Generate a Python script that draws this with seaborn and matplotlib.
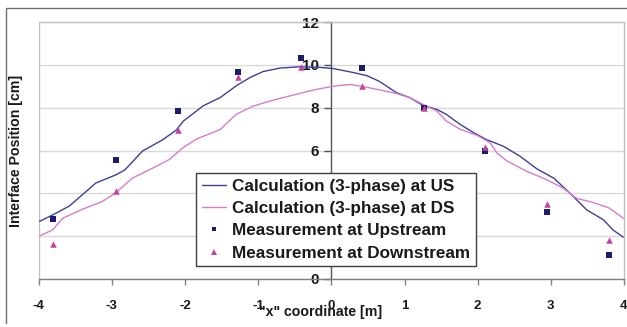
import matplotlib
matplotlib.use("Agg")
import matplotlib.pyplot as plt
from matplotlib.lines import Line2D
import numpy as np
import pandas as pd
import seaborn as sns

# ---------------- data ----------------
calc_us_x = [-3.99, -3.81, -3.58, -3.35, -3.22, -2.94, -2.82, -2.58, -2.31, -2.12,
             -2.02, -1.75, -1.52, -1.30, -1.11, -0.93, -0.70, -0.43, -0.16, 0.02,
             0.30, 0.49, 0.66, 0.89, 1.07, 1.25, 1.44, 1.57, 1.76, 1.94,
             2.12, 2.35, 2.58, 2.81, 3.04, 3.26, 3.49, 3.72, 3.85, 3.99]
calc_us_y = [2.69, 2.99, 3.41, 4.09, 4.48, 4.87, 5.10, 5.98, 6.49, 6.95,
             7.38, 8.09, 8.47, 9.02, 9.41, 9.69, 9.85, 9.91, 9.88, 9.83,
             9.64, 9.49, 9.22, 8.70, 8.47, 8.11, 7.92, 7.69, 7.22, 6.84,
             6.51, 6.20, 5.73, 5.14, 4.71, 4.01, 3.23, 2.76, 2.29, 1.95]

calc_ds_x = [-3.99, -3.81, -3.67, -3.40, -3.13, -2.94, -2.72, -2.44, -2.22, -2.02,
             -1.84, -1.52, -1.30, -1.07, -0.84, -0.52, -0.24, 0.02, 0.25, 0.43,
             0.66, 0.89, 1.07, 1.25, 1.44, 1.57, 1.76, 1.99, 2.17, 2.26,
             2.40, 2.67, 2.94, 3.17, 3.35, 3.58, 3.80, 3.99]
calc_ds_y = [2.01, 2.29, 2.84, 3.26, 3.62, 4.04, 4.71, 5.18, 5.57, 6.15,
             6.54, 6.98, 7.69, 8.07, 8.31, 8.59, 8.83, 9.00, 9.08, 8.99,
             8.83, 8.66, 8.47, 8.16, 7.85, 7.38, 6.99, 6.71, 6.36, 5.89,
             5.51, 5.03, 4.64, 4.24, 3.77, 3.57, 3.31, 2.84]

meas_x = [-3.8, -2.95, -2.1, -1.27, -0.42, 0.42, 1.27, 2.1, 2.95, 3.8]
meas_us_y = [2.80, 5.57, 7.83, 9.67, 10.32, 9.87, 8.00, 6.00, 3.11, 1.12]
meas_ds_y = [1.64, 4.10, 6.97, 9.45, 9.90, 9.00, 8.00, 6.16, 3.50, 1.80]

series_labels = ["Calculation (3-phase) at US", "Calculation (3-phase) at DS",
                 "Measurement at Upstream", "Measurement at Downstream"]
x_ticks = [-4, -3, -2, -1, 0, 1, 2, 3, 4]
y_ticks = [0, 2, 4, 6, 8, 10, 12]
x_label = '"x" coordinate [m]'
y_label = "Interface Position [cm]"

# ---------------- style ----------------
sns.set_theme(style="white")
plt.rcParams["font.family"] = ["Liberation Sans", "DejaVu Sans"]
plt.rcParams["font.weight"] = "bold"

c_us_line = "#3f3f98"
c_ds_line = "#d57ccf"
c_us_mark = "#1c1c6c"
c_ds_mark = "#c2449e"

W, H = 627, 327
fig = plt.figure(figsize=(W / 100, H / 100), dpi=100)
L, R, T, B = 38.7, 624.0, 22.0, 279.0
ax = fig.add_axes([L / W, 1 - B / H, (R - L) / W, (B - T) / H])

df_us = pd.DataFrame({"x": calc_us_x, "y": calc_us_y})
df_ds = pd.DataFrame({"x": calc_ds_x, "y": calc_ds_y})
df_mu = pd.DataFrame({"x": meas_x, "y": meas_us_y})
df_md = pd.DataFrame({"x": meas_x, "y": meas_ds_y})

sns.lineplot(data=df_us, x="x", y="y", sort=False, estimator=None,
             color=c_us_line, lw=1.0, ax=ax, zorder=3)
sns.lineplot(data=df_ds, x="x", y="y", sort=False, estimator=None,
             color=c_ds_line, lw=1.0, ax=ax, zorder=3)
sns.scatterplot(data=df_mu, x="x", y="y", marker="s", s=16, color=c_us_mark,
                linewidth=0, ax=ax, zorder=4)
sns.scatterplot(data=df_md, x="x", y="y", marker="^", s=22, color=c_ds_mark,
                linewidth=0, ax=ax, zorder=4)

ax.set_xlim(-4, 4)
ax.set_ylim(0, 12)
ax.set_xticks(x_ticks)
ax.set_yticks(y_ticks)
ax.set_xticklabels([str(v) for v in x_ticks], fontsize=9.5, fontweight="bold")
ax.set_yticklabels([str(v) for v in y_ticks], fontsize=9.5, fontweight="bold")

# grid
ax.yaxis.grid(True, color="#d9d9d9", lw=1.0, zorder=0)
ax.xaxis.grid(False)
ax.set_axisbelow(True)

# spines
ax.spines["left"].set_position(("data", 0))
ax.spines["left"].set_color("#555555")
ax.spines["left"].set_linewidth(1.0)
ax.spines["bottom"].set_color("#808080")
ax.spines["bottom"].set_linewidth(1.0)
for s in ["top", "right"]:
    ax.spines[s].set_visible(True)
    ax.spines[s].set_color("#c0c0c0")
    ax.spines[s].set_linewidth(1.0)
ax.axvline(-4, color="#c0c0c0", lw=1.0, zorder=1)

ax.tick_params(axis="x", direction="out", length=4, width=1, color="#808080",
               pad=11, labelcolor="#1a1a1a", bottom=True)
ax.tick_params(axis="y", direction="out", length=5, width=1, color="#555555",
               pad=4, labelcolor="#1a1a1a", left=True)

ax.set_xlabel(x_label, fontsize=10.2, fontweight="bold", color="#1a1a1a")
ax.set_ylabel(y_label, fontsize=10.2, fontweight="bold", color="#1a1a1a")
ax.xaxis.set_label_coords(0.482, -0.10)
ax.yaxis.set_label_coords(-0.027, 0.5)

# legend
handles = [
    Line2D([], [], color=c_us_line, lw=1.0),
    Line2D([], [], color=c_ds_line, lw=1.0),
    Line2D([], [], color=c_us_mark, marker="s", ls="none", markersize=3.5, markeredgewidth=0),
    Line2D([], [], color=c_ds_mark, marker="^", ls="none", markersize=4.0, markeredgewidth=0),
]
leg = ax.legend(handles, series_labels, loc="upper left",
                bbox_to_anchor=((196 - L) / (R - L), (B - 173) / (B - T)),
                borderaxespad=0, fontsize=12.3, prop={"weight": "bold", "size": 12.3},
                frameon=True, fancybox=False, framealpha=1, edgecolor="#404040",
                handlelength=1.4, handletextpad=0.35, labelspacing=0.42,
                borderpad=0.35)
leg.get_frame().set_linewidth(1.0)
leg.set_zorder(10)
for t in leg.get_texts():
    t.set_color("#1a1a1a")

# outer figure frame
fig.add_artist(Line2D([6 / W, 6 / W, 1.0], [1 - 323 / H, 1 - 8 / H, 1 - 8 / H],
                      transform=fig.transFigure, color="#707070", lw=1.0))

fig.savefig("out.png", dpi=100)
